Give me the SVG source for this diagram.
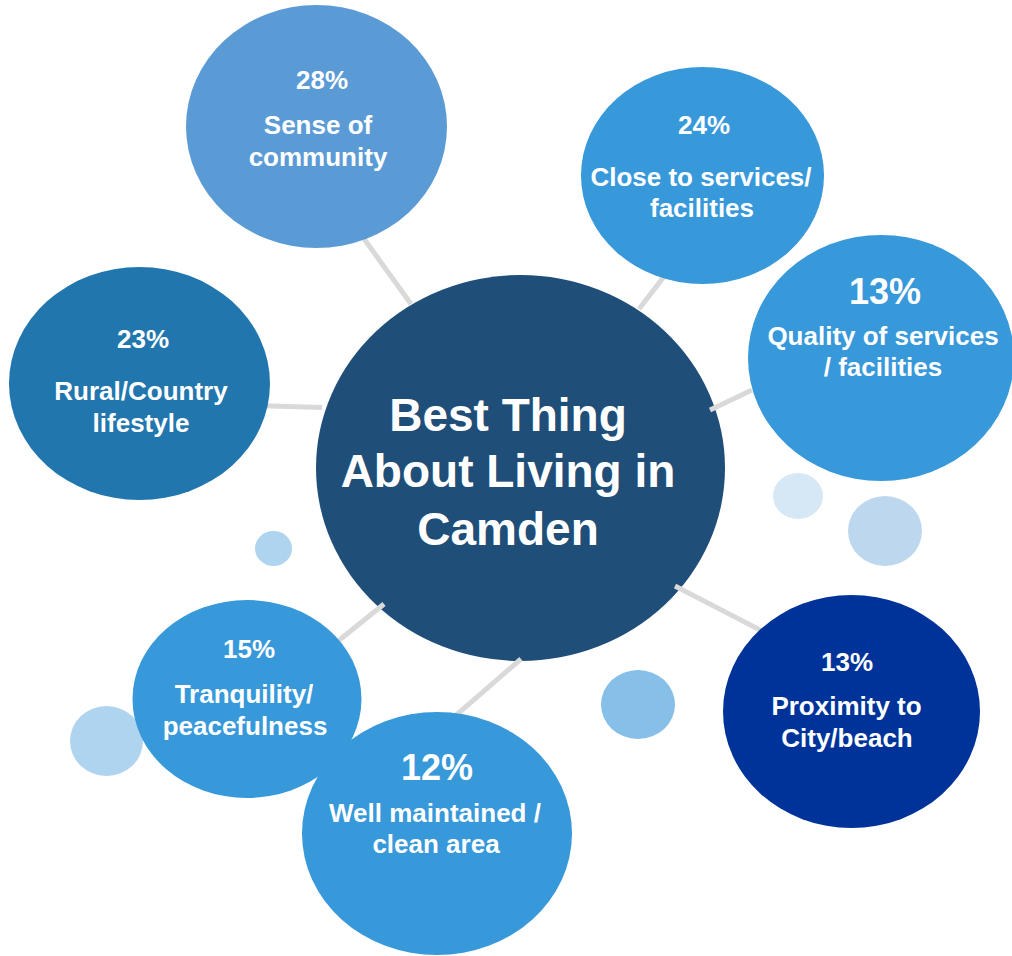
<svg xmlns="http://www.w3.org/2000/svg" width="1012" height="956" viewBox="0 0 1012 956">
<style>
.t{font-family:"Liberation Sans",Arial,sans-serif;font-weight:bold;fill:#FFFFFF;text-anchor:middle}
.s{font-size:26px}
.b{font-size:36px}
.c{font-size:46px}
.con line{stroke:#D9D9D9;stroke-width:5;stroke-linecap:butt}
</style>
<rect width="1012" height="956" fill="#FFFFFF"/>
<g id="decor">
<ellipse cx="273.5" cy="548.5" rx="18.5" ry="17.5" fill="#AED4EF"/>
<ellipse cx="106.5" cy="741" rx="36.5" ry="35" fill="#AED4EF"/>
<ellipse cx="798" cy="496" rx="25" ry="23" fill="#D6E8F6"/>
<ellipse cx="885" cy="531" rx="37" ry="35" fill="#BDD7EE"/>
<ellipse cx="638" cy="704.5" rx="37" ry="34.5" fill="#86BFE8"/>
</g>
<g id="center">
<ellipse cx="520.5" cy="468" rx="204.5" ry="193" fill="#1F4E79"/>
<text class="t c" x="508" y="430.5">Best Thing</text>
<text class="t c" x="508" y="486.5">About Living in</text>
<text class="t c" x="508" y="545">Camden</text>
</g>
<g id="connectors" class="con">
<line x1="362" y1="236" x2="411" y2="304"/>
<line x1="666" y1="274" x2="639" y2="309"/>
<line x1="752" y1="390" x2="710" y2="410"/>
<line x1="254" y1="405.5" x2="322" y2="407.5"/>
<line x1="675" y1="586" x2="766" y2="633"/>
<line x1="332" y1="646" x2="384" y2="604"/>
<line x1="454" y1="717" x2="521" y2="659"/>
</g>
<g id="sense">
<ellipse cx="316.5" cy="126.5" rx="130.5" ry="121.5" fill="#5B9BD5"/>
<text class="t s" x="322" y="89">28%</text>
<text class="t s" x="318" y="134">Sense of</text>
<text class="t s" x="318" y="165.5">community</text>
</g>
<g id="close">
<ellipse cx="702.5" cy="175.5" rx="121.5" ry="108.5" fill="#3798DA"/>
<text class="t s" x="704" y="134">24%</text>
<text class="t s" x="701" y="186">Close to services/</text>
<text class="t s" x="702" y="217">facilities</text>
</g>
<g id="quality">
<ellipse cx="881" cy="358" rx="133" ry="123" fill="#3798DA"/>
<text class="t b" x="885" y="304">13%</text>
<text class="t s" x="883" y="345">Quality of services</text>
<text class="t s" x="883" y="376">/ facilities</text>
</g>
<g id="rural">
<ellipse cx="139.5" cy="383.5" rx="130.5" ry="116.5" fill="#2176AE"/>
<text class="t s" x="143" y="348">23%</text>
<text class="t s" x="141" y="400">Rural/Country</text>
<text class="t s" x="141" y="431.5">lifestyle</text>
</g>
<g id="tranquility">
<ellipse cx="247" cy="699" rx="114.5" ry="99" fill="#3798DA"/>
<text class="t s" x="249" y="658">15%</text>
<text class="t s" x="244" y="703">Tranquility/</text>
<text class="t s" x="245" y="735">peacefulness</text>
</g>
<g id="well">
<ellipse cx="437" cy="833.5" rx="135" ry="121.5" fill="#3798DA"/>
<text class="t b" x="437" y="780">12%</text>
<text class="t s" x="435" y="822">Well maintained /</text>
<text class="t s" x="436" y="853">clean area</text>
</g>
<g id="proximity">
<ellipse cx="851.5" cy="711.5" rx="128.5" ry="116.5" fill="#00339A"/>
<text class="t s" x="847" y="670.5">13%</text>
<text class="t s" x="846.5" y="715">Proximity to</text>
<text class="t s" x="847" y="746.5">City/beach</text>
</g>
</svg>
